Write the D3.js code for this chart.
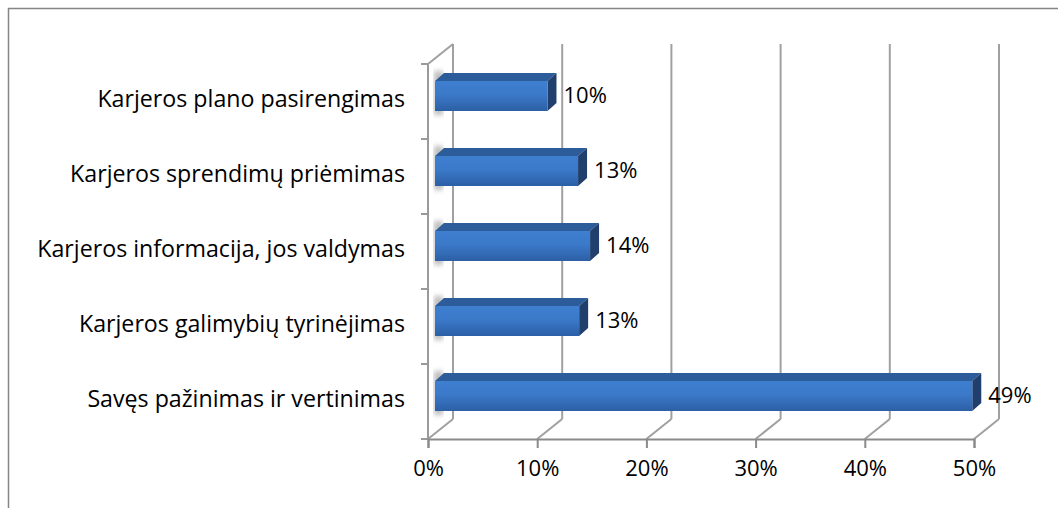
<!DOCTYPE html>
<html>
<head>
<meta charset="utf-8">
<script src="https://cdn.jsdelivr.net/npm/d3@7"></script>
<style>
  body { margin: 0; background: #fff; }
  svg { display: block; }
  text { font-family: "Open Sans", sans-serif; fill: #000; }
</style>
</head>
<body>
<svg id="chart" width="1058" height="508"></svg>
<script>
// data
var categories = [
  "Karjeros plano pasirengimas",
  "Karjeros sprendimų priėmimas",
  "Karjeros informacija, jos valdymas",
  "Karjeros galimybių tyrinėjimas",
  "Savęs pažinimas ir vertinimas"
];
var values = [10.3, 13.1, 14.2, 13.2, 49.2];
var valueLabels = ["10%", "13%", "14%", "13%", "49%"];
var xTicks = [0, 10, 20, 30, 40, 50];

var svg = d3.select("#chart");

// outer frame
svg.append("rect")
  .attr("x", 8.5).attr("y", 8.5)
  .attr("width", 1100).attr("height", 600)
  .attr("fill", "none").attr("stroke", "#858585").attr("stroke-width", 1.5);

var defs = svg.append("defs");
var grad = defs.append("linearGradient").attr("id", "face")
  .attr("x1", 0).attr("y1", 0).attr("x2", 0).attr("y2", 1);
grad.append("stop").attr("offset", "0%").attr("stop-color", "#3f7fcf");
grad.append("stop").attr("offset", "45%").attr("stop-color", "#3b79c9");
grad.append("stop").attr("offset", "100%").attr("stop-color", "#2c5fa5");
defs.append("filter").attr("id", "blur")
  .append("feGaussianBlur").attr("stdDeviation", 2.5);

// 3d depth of the plot box
var depthX = 25, depthY = -20;
var floorY = 439, topY = 64;

var x = d3.scaleLinear().domain([0, 50]).range([428, 974]);
var y = d3.scaleBand().domain(categories).range([topY, floorY]);

var gridColor = "#a0a0a0";

// left wall
var g = svg.append("g");
g.append("line").attr("x1", x(0)).attr("x2", x(0)).attr("y1", topY).attr("y2", floorY)
  .attr("stroke", "#9a9a9a").attr("stroke-width", 2);
g.append("line").attr("x1", x(0)).attr("x2", x(0) + depthX).attr("y1", topY).attr("y2", topY + depthY)
  .attr("stroke", gridColor).attr("stroke-width", 2);

// back wall gridlines and floor diagonals
xTicks.forEach(function (t) {
  g.append("line")
    .attr("x1", x(t) + depthX).attr("x2", x(t) + depthX)
    .attr("y1", topY + depthY).attr("y2", floorY + depthY)
    .attr("stroke", gridColor).attr("stroke-width", 2);
  g.append("line")
    .attr("x1", x(t)).attr("x2", x(t) + depthX)
    .attr("y1", floorY).attr("y2", floorY + depthY)
    .attr("stroke", gridColor).attr("stroke-width", 2);
});

// category ticks on the left
var bounds = categories.map(function (c) { return y(c); }).concat([floorY]);
bounds.forEach(function (b) {
  g.append("line").attr("x1", x(0) - 7).attr("x2", x(0)).attr("y1", b).attr("y2", b)
    .attr("stroke", "#9a9a9a").attr("stroke-width", 2);
});

// bottom axis
var axis = svg.append("g")
  .attr("transform", "translate(0," + floorY + ")")
  .call(d3.axisBottom(x).tickValues(xTicks).tickSize(9).tickPadding(12)
    .tickFormat(function (d) { return d + "%"; }));
axis.select(".domain").attr("stroke", "#8a8a8a").attr("stroke-width", 2);
axis.selectAll(".tick line").attr("stroke", "#8a8a8a").attr("stroke-width", 2);
axis.selectAll(".tick text").attr("font-size", 22).attr("font-family", "Open Sans, sans-serif").attr("fill", "#000");

// bars
var bx = 7, bdx = 9, bdy = -8, faceTop = 17, faceH = 30;
var bars = svg.append("g");
categories.forEach(function (c, i) {
  var x0 = x(0) + bx, x1 = x(values[i]) + bx;
  var yt = y(c) + faceTop, yb = yt + faceH;
  // shadow on wall
  bars.append("rect").attr("x", x0 - 1).attr("y", yt - 10).attr("width", 9).attr("height", faceH + 14)
    .attr("fill", "#bdbdbd").attr("filter", "url(#blur)");
  // top face
  bars.append("path")
    .attr("d", "M" + x0 + "," + yt + "L" + (x0 + bdx) + "," + (yt + bdy) +
      "L" + (x1 + bdx) + "," + (yt + bdy) + "L" + x1 + "," + yt + "Z")
    .attr("fill", "#2d5c9a");
  // end face
  bars.append("path")
    .attr("d", "M" + x1 + "," + yt + "L" + (x1 + bdx) + "," + (yt + bdy) +
      "L" + (x1 + bdx) + "," + (yb + bdy) + "L" + x1 + "," + yb + "Z")
    .attr("fill", "#213f6c");
  // front face
  bars.append("rect").attr("x", x0).attr("y", yt).attr("width", x1 - x0).attr("height", faceH)
    .attr("fill", "url(#face)");
  // value label
  bars.append("text")
    .attr("x", x1 + bdx + 7).attr("y", yt + faceH / 2 + 1)
    .attr("dominant-baseline", "middle")
    .attr("font-size", 22)
    .text(valueLabels[i]);
});

// category labels
svg.append("g").selectAll("text").data(categories).enter().append("text")
  .attr("x", 405)
  .attr("y", function (d) { return y(d) + y.bandwidth() / 2 - 1; })
  .attr("text-anchor", "end")
  .attr("dominant-baseline", "middle")
  .attr("font-size", 23.2)
  .text(function (d) { return d; });
</script>
</body>
</html>
